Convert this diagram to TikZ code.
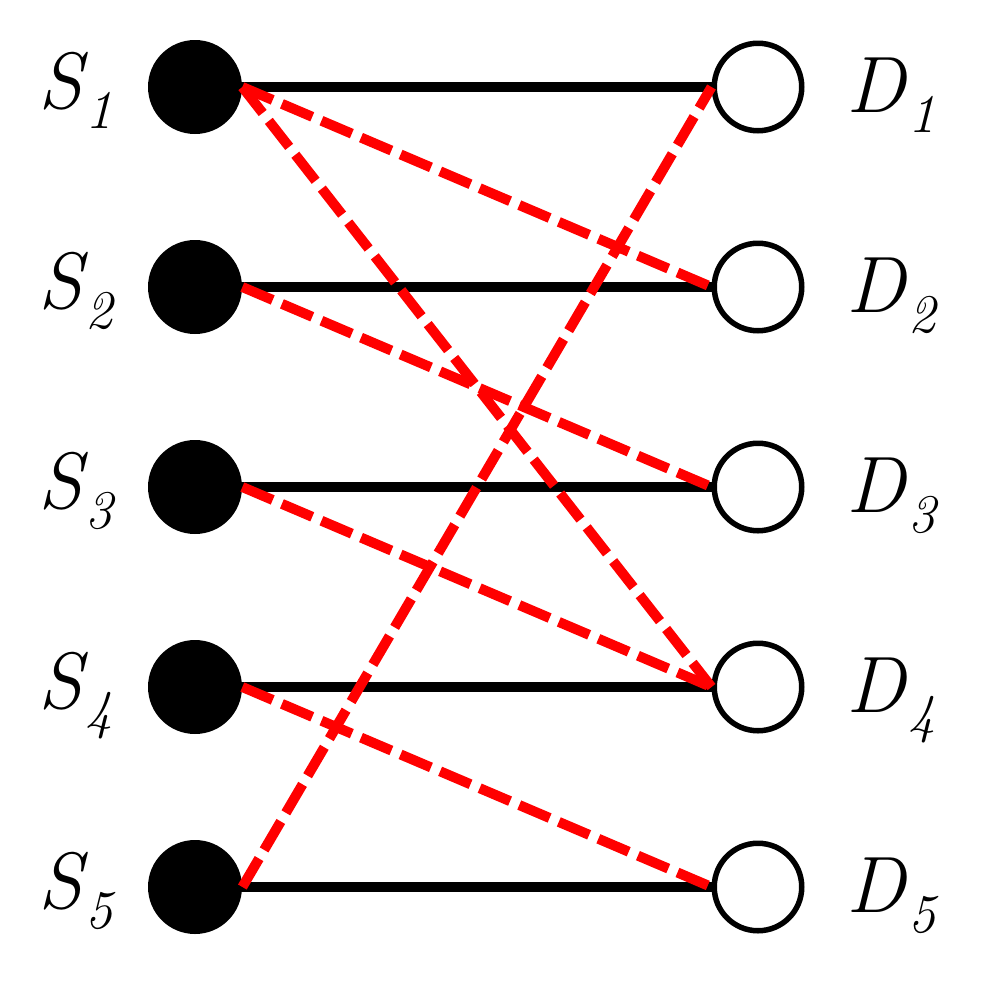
\documentclass[tikz,border=0pt]{standalone}
\usetikzlibrary{positioning}
\newcommand{\sublbl}[2]{#1\kern0.05cm\raisebox{-0.4cm}{\fontsize{31}{31}\selectfont #2}}
\begin{document}
\begin{tikzpicture}
	\tikzstyle{src}=[circle,fill=black,inner sep=0pt,minimum size=1.88cm]
	\tikzstyle{dst}=[circle,draw=black,line width=0.11cm,fill=white,inner sep=0pt,minimum size=1.75cm]
	\tikzstyle{lbl}=[inner sep=0pt,font=\fontsize{45.5}{50}\selectfont\itshape]
	\tikzstyle{link}=[line width=0.2cm]
	\tikzstyle{cross}=[line width=0.2cm,red,dash pattern=on 0.66cm off 0.2cm]

	\useasboundingbox (0,0) rectangle (19.84,-19.88);

	\node [src] (s1) at (3.9,-1.74) {};
	\node [src] (s2) [below of=s1, node distance=4cm] {};
	\node [src] (s3) [below of=s2, node distance=4cm] {};
	\node [src] (s4) [below of=s3, node distance=4cm] {};
	\node [src] (s5) [below of=s4, node distance=4cm] {};

	\node [dst] (d1) [right of=s1, node distance=11.26cm] {};
	\node [dst] (d2) [below of=d1, node distance=4cm] {};
	\node [dst] (d3) [below of=d2, node distance=4cm] {};
	\node [dst] (d4) [below of=d3, node distance=4cm] {};
	\node [dst] (d5) [below of=d4, node distance=4cm] {};

	\node [lbl,anchor=base east] (ls1) at ([xshift=-0.7cm,yshift=-0.42cm]s1.west) {\sublbl{S}{1}};
	\node [lbl,anchor=base east] (ls2) at ([xshift=-0.7cm,yshift=-0.42cm]s2.west) {\sublbl{S}{2}};
	\node [lbl,anchor=base east] (ls3) at ([xshift=-0.7cm,yshift=-0.42cm]s3.west) {\sublbl{S}{3}};
	\node [lbl,anchor=base east] (ls4) at ([xshift=-0.7cm,yshift=-0.42cm]s4.west) {\sublbl{S}{4}};
	\node [lbl,anchor=base east] (ls5) at ([xshift=-0.7cm,yshift=-0.42cm]s5.west) {\sublbl{S}{5}};

	\node [lbl,anchor=base west] (ld1) at ([xshift=0.84cm,yshift=-0.5cm]d1.east) {\sublbl{D}{1}};
	\node [lbl,anchor=base west] (ld2) at ([xshift=0.84cm,yshift=-0.5cm]d2.east) {\sublbl{D}{2}};
	\node [lbl,anchor=base west] (ld3) at ([xshift=0.84cm,yshift=-0.5cm]d3.east) {\sublbl{D}{3}};
	\node [lbl,anchor=base west] (ld4) at ([xshift=0.84cm,yshift=-0.5cm]d4.east) {\sublbl{D}{4}};
	\node [lbl,anchor=base west] (ld5) at ([xshift=0.84cm,yshift=-0.5cm]d5.east) {\sublbl{D}{5}};

	\draw [link] (s1.east) -- (d1.west);
	\draw [link] (s2.east) -- (d2.west);
	\draw [link] (s3.east) -- (d3.west);
	\draw [link] (s4.east) -- (d4.west);
	\draw [link] (s5.east) -- (d5.west);

	\draw [cross] (s1.east) -- (d2.west);
	\draw [cross] (s1.east) -- (d4.west);
	\draw [cross] (s2.east) -- (d3.west);
	\draw [cross] (s3.east) -- (d4.west);
	\draw [cross] (s4.east) -- (d5.west);
	\draw [cross] (s5.east) -- (d1.west);

\end{tikzpicture}
\end{document}
